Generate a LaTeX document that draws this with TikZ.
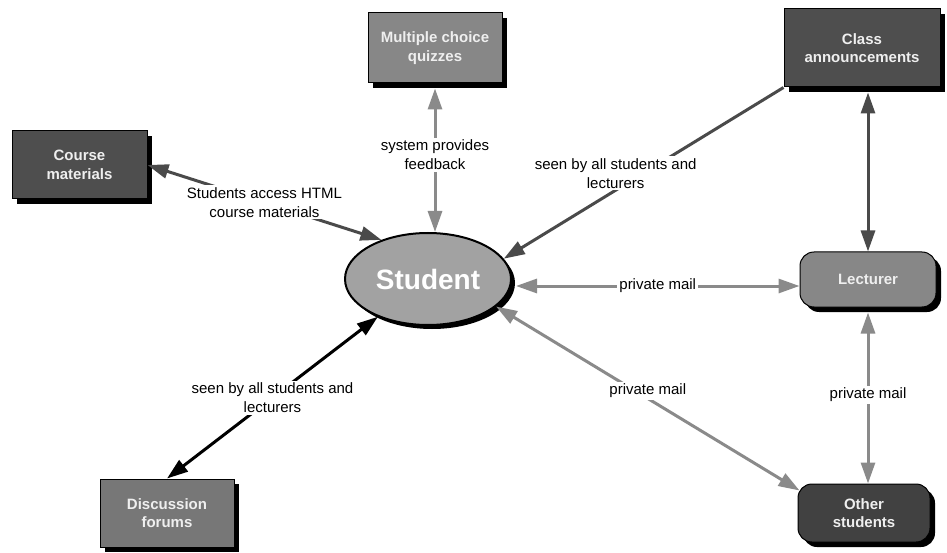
\documentclass[tikz,border=0pt]{standalone}
\usepackage{fontspec}
\setmainfont{Liberation Sans}
\usetikzlibrary{arrows.meta,shapes.geometric,shadows}
\definecolor{boxdark}{HTML}{4E4E4E}
\definecolor{boxdarker}{HTML}{414141}
\definecolor{boxmid}{HTML}{878787}
\definecolor{boxmid2}{HTML}{777777}
\definecolor{studfill}{HTML}{A2A2A2}
\definecolor{linedark}{HTML}{4A4A4A}
\definecolor{linegray}{HTML}{8A8A8A}
\definecolor{txtlight}{HTML}{EFEFEF}
\tikzset{
  boxnode/.style={draw=black, line width=1pt, align=center, text=txtlight,
    font=\fontsize{15}{18.5}\selectfont\bfseries, inner sep=2pt,
    drop shadow={shadow xshift=5pt, shadow yshift=-5pt, fill=black, opacity=1}},
  roundnode/.style={boxnode, rounded corners=14pt},
  lab/.style={fill=white, text=black, align=center, inner sep=2pt,
    font=\fontsize{15}{19}\selectfont},
  conn/.style={line width=3pt, {Triangle[length=21pt,width=14pt]}-{Triangle[length=21pt,width=14pt]}},
  connone/.style={line width=3pt, -{Triangle[length=21pt,width=14pt]}},
}
\begin{document}
\begin{tikzpicture}[x=1pt,y=-1pt]
\useasboundingbox (0,0) rectangle (947,553);
% nodes
\node[boxnode, fill=boxdark, minimum width=135pt, minimum height=68pt] (cm) at (79.5,165) {Course\\materials};
\node[boxnode, fill=boxmid, minimum width=134pt, minimum height=70pt] (qz) at (435,48) {Multiple choice\\quizzes};
\node[boxnode, fill=boxdark, minimum width=156pt, minimum height=78pt] (ca) at (862,48) {Class\\announcements};
\node[roundnode, fill=boxmid, minimum width=136pt, minimum height=55pt] (lec) at (868,279.5) {Lecturer};
\node[roundnode, fill=boxdarker, minimum width=132pt, minimum height=58pt] (os) at (864,513) {Other\\students};
\node[boxnode, fill=boxmid2, minimum width=134pt, minimum height=68pt] (df) at (167,513) {Discussion\\forums};
\node[ellipse, draw=black, line width=2pt, fill=studfill, minimum width=166pt, minimum height=92pt,
  inner sep=0pt, text=white, font=\fontsize{28}{30}\selectfont\bfseries,
  drop shadow={shadow xshift=4pt, shadow yshift=-4pt, fill=black, opacity=1}] (st) at (428,279) {Student};
% connectors
\draw[conn, linedark] (cm.east) -- (st.140)
  node[lab, pos=0.5] {Students access HTML\\course materials};
\draw[conn, linegray] ([yshift=-5pt]qz.south) -- (qz.south |- st.north)
  node[lab, pos=0.46] {system provides\\feedback};
\draw[connone, linedark] (ca.south west) -- (st.15)
  node[lab, pos=0.6, yshift=17pt] {seen by all students and\\lecturers};
\draw[conn, linedark] ([yshift=-5pt]ca.south -| lec.north) -- (lec.north);
\draw[conn, linegray] ([xshift=4pt,yshift=-6.5pt]lec.west -| st.east) -- ([yshift=-6.5pt]lec.west)
  node[lab, midway] {private mail};
\draw[conn, linegray] (st.-22) -- ([xshift=2pt,yshift=-7pt]os.north west)
  node[lab, pos=0.5, yshift=8pt] {private mail};
\draw[conn, linegray] ([yshift=-5pt]lec.south) -- (lec.south |- os.north)
  node[lab, pos=0.48] {private mail};
\draw[conn, black] (st.-143) -- (df.north)
  node[lab, pos=0.5] {seen by all students and\\lecturers};
\end{tikzpicture}
\end{document}
